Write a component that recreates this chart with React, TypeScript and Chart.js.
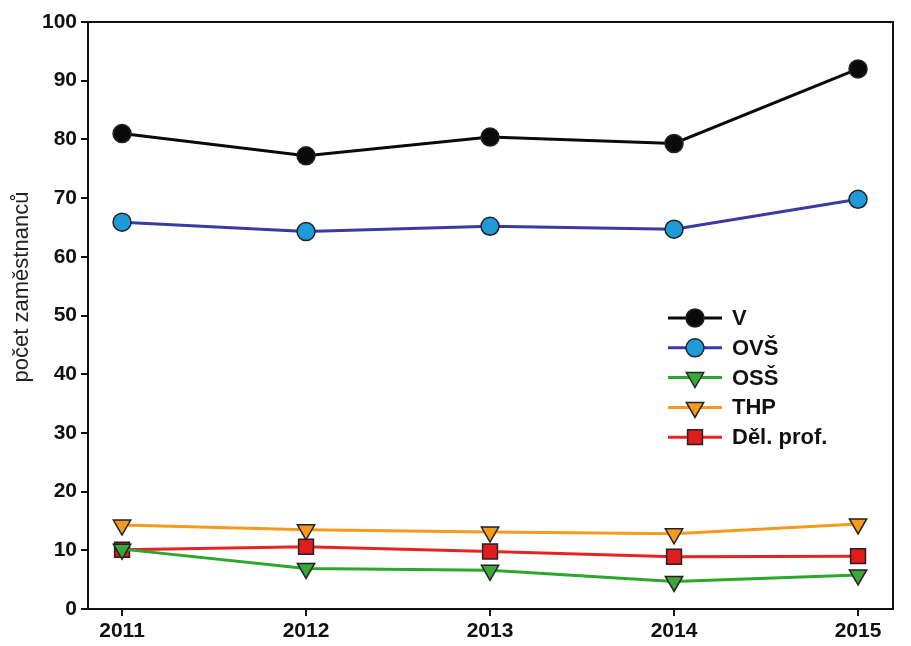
import React, { useEffect, useRef } from "react";
import { Chart, registerables } from "chart.js";

Chart.register(...registerables);

const years = [2011, 2012, 2013, 2014, 2015];
const seriesNames = ["V", "OVŠ", "OSŠ", "THP", "Děl. prof."];
const vValues = [81.0, 77.2, 80.4, 79.3, 92.0];
const ovsValues = [65.9, 64.3, 65.2, 64.7, 69.8];
const ossValues = [10.2, 6.9, 6.6, 4.7, 5.8];
const thpValues = [14.3, 13.5, 13.1, 12.8, 14.5];
const delValues = [10.1, 10.6, 9.8, 8.9, 9.0];
const yTicks = [0, 10, 20, 30, 40, 50, 60, 70, 80, 90, 100];
const yTitle = "počet zaměstnanců";

const FONT = "'Liberation Sans', Arial, sans-serif";

const boxPlugin = {
  id: "box",
  afterDatasetsDraw(chart: any) {
    const { ctx, chartArea: a } = chart;
    ctx.save();
    ctx.strokeStyle = "#111";
    ctx.lineWidth = 2;
    ctx.strokeRect(a.left, a.top, a.right - a.left, a.bottom - a.top);
    ctx.restore();
  },
};

const yTitlePlugin = {
  id: "yTitleText",
  afterDraw(chart: any) {
    const { ctx } = chart;
    ctx.save();
    ctx.translate(22, 287);
    ctx.rotate(-Math.PI / 2);
    ctx.fillStyle = "#222";
    ctx.font = `22px ${FONT}`;
    ctx.textAlign = "center";
    ctx.textBaseline = "middle";
    ctx.fillText(yTitle, 0, 0);
    ctx.restore();
  },
};

const legendPlugin = {
  id: "insideLegend",
  afterDraw(chart: any) {
    const { ctx } = chart;
    ctx.save();
    const x0 = 668;
    const x1 = 722;
    const mx = 695;
    chart.data.datasets.forEach((ds: any, i: number) => {
      const y = 318 + i * 29.8;
      ctx.strokeStyle = ds.borderColor;
      ctx.lineWidth = 3;
      ctx.beginPath();
      ctx.moveTo(x0, y);
      ctx.lineTo(x1, y);
      ctx.stroke();
      ctx.fillStyle = ds.pointBackgroundColor;
      ctx.strokeStyle = ds.pointBorderColor;
      ctx.lineWidth = ds.pointBorderWidth;
      ctx.beginPath();
      const r = ds.pointRadius;
      if (ds.pointStyle === "circle") {
        ctx.arc(mx, y, r, 0, Math.PI * 2);
      } else if (ds.pointStyle === "rect") {
        const h = r * Math.SQRT1_2;
        ctx.rect(mx - h, y - h, 2 * h, 2 * h);
      } else {
        ctx.moveTo(mx - r * 0.866, y - r * 0.5);
        ctx.lineTo(mx + r * 0.866, y - r * 0.5);
        ctx.lineTo(mx, y + r);
        ctx.closePath();
      }
      ctx.fill();
      ctx.stroke();
      ctx.fillStyle = "#111";
      ctx.font = `bold 22px ${FONT}`;
      ctx.textBaseline = "middle";
      ctx.textAlign = "left";
      ctx.fillText(ds.label, 732, y + 1);
    });
    ctx.restore();
  },
};

export default function App() {
  const ref = useRef<HTMLCanvasElement | null>(null);
  useEffect(() => {
    document.body.style.margin = "0";
    const toPts = (vals: number[]) => years.map((x, i) => ({ x, y: vals[i] }));
    const mk = (
      label: string,
      vals: number[],
      line: string,
      fill: string,
      style: string,
      radius: number,
      rotation = 0
    ) => ({
      label,
      data: toPts(vals),
      borderColor: line,
      borderWidth: 3,
      pointBackgroundColor: fill,
      pointBorderColor: "#222",
      pointBorderWidth: 1.5,
      pointStyle: style,
      pointRadius: radius,
      pointRotation: rotation,
      tension: 0,
    });
    const chart = new Chart(ref.current as HTMLCanvasElement, {
      type: "line",
      data: {
        datasets: [
          mk(seriesNames[0], vValues, "#0a0a0a", "#0a0a0a", "circle", 9),
          mk(seriesNames[1], ovsValues, "#3a3aa0", "#1e9ad8", "circle", 9),
          mk(seriesNames[2], ossValues, "#2aa82a", "#3aa83a", "triangle", 10, 180),
          mk(seriesNames[3], thpValues, "#f59a1c", "#f59a1c", "triangle", 10, 180),
          mk(seriesNames[4], delValues, "#e82222", "#e01c1c", "rect", 10.5),
        ] as any,
      },
      options: {
        animation: false,
        responsive: false,
        layout: { padding: { top: 22, right: 18, left: 0, bottom: 0 } },
        plugins: { legend: { display: false }, tooltip: { enabled: false } },
        scales: {
          x: {
            type: "linear",
            min: 2010.815,
            max: 2015.19,
            afterBuildTicks: (s: any) => {
              s.ticks = years.map((v) => ({ value: v }));
            },
            afterFit: (s: any) => {
              s.height = 37;
            },
            grid: { drawOnChartArea: false, tickLength: 7, color: "#111", lineWidth: 2 },
            border: { display: false },
            ticks: {
              color: "#111",
              font: { family: FONT, size: 21, weight: "bold" },
              padding: 3,
              callback: (v: any) => String(v),
            },
          },
          y: {
            min: 0,
            max: 100,
            afterBuildTicks: (s: any) => {
              s.ticks = yTicks.map((v) => ({ value: v }));
            },
            afterFit: (s: any) => {
              s.width = 88;
            },
            grid: { drawOnChartArea: false, tickLength: 7, color: "#111", lineWidth: 2 },
            border: { display: false },
            ticks: {
              color: "#111",
              font: { family: FONT, size: 21, weight: "bold" },
              padding: 4,
            },
            title: { display: false, text: yTitle },
          },
        },
      } as any,
      plugins: [boxPlugin, legendPlugin, yTitlePlugin],
    });
    return () => chart.destroy();
  }, []);
  return (
    <div style={{ position: "absolute", left: 0, top: 0, width: 911, height: 646, background: "#fff" }}>
      <canvas ref={ref} width={911} height={646} style={{ width: 911, height: 646 }} />
    </div>
  );
}
